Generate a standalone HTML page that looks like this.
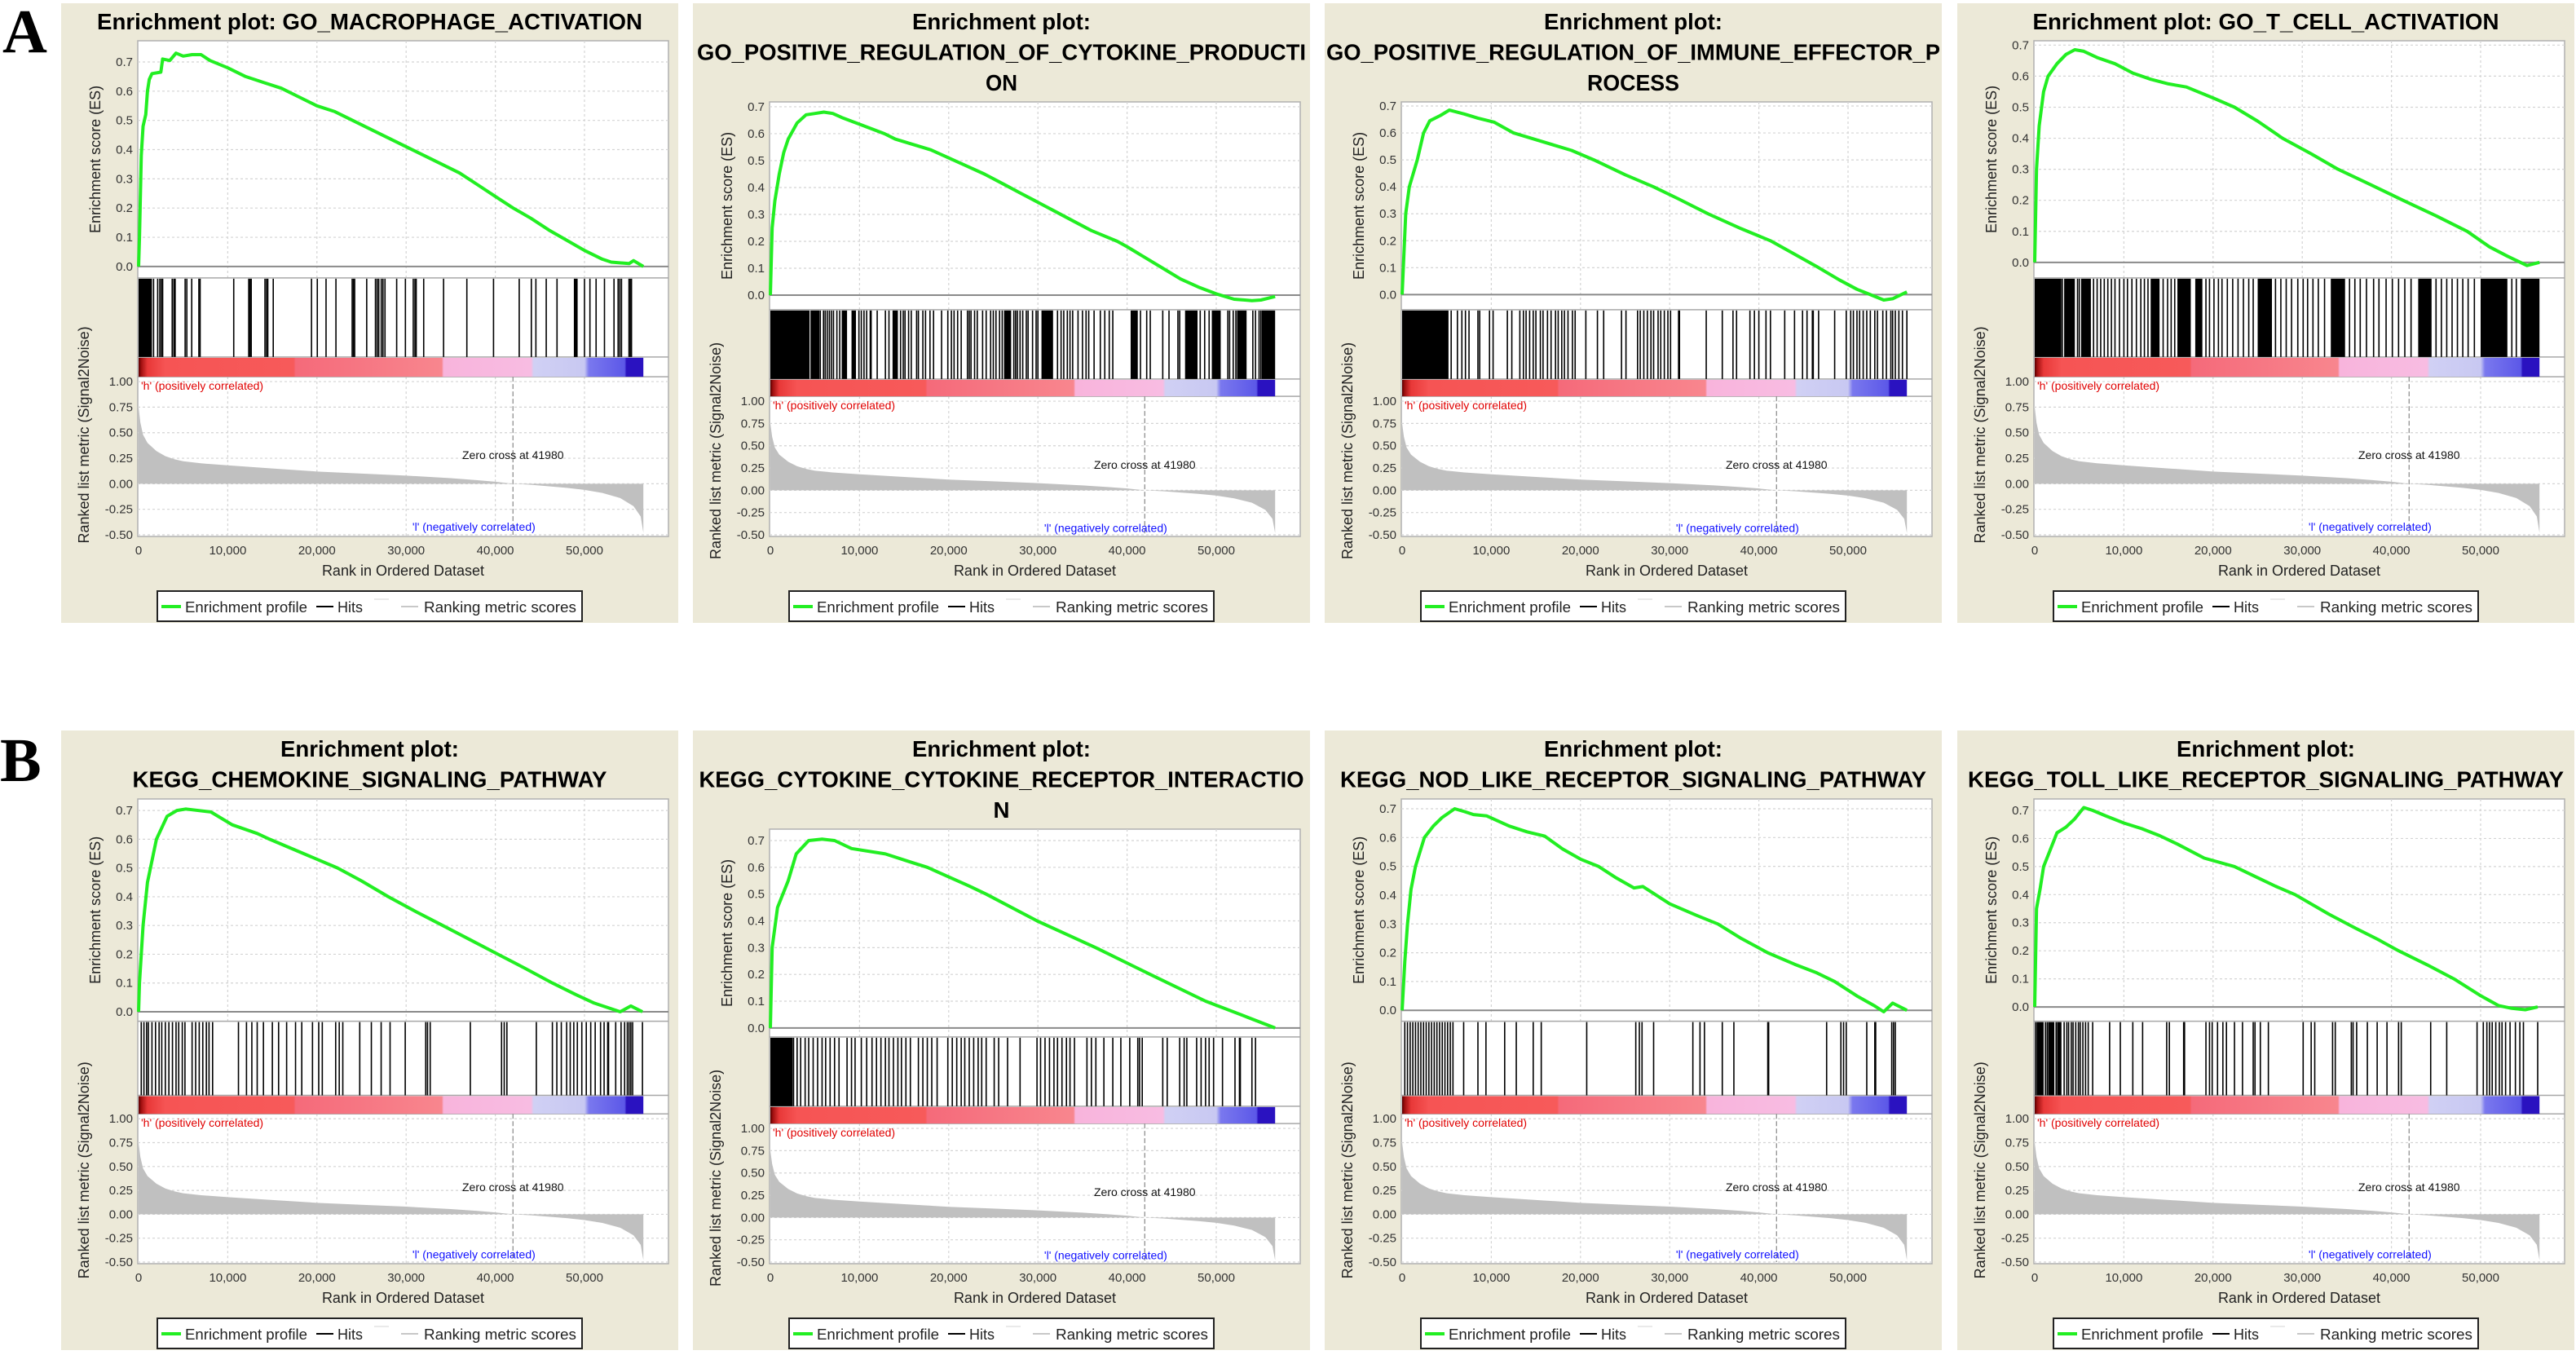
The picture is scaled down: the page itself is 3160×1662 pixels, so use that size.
<!DOCTYPE html>
<html><head><meta charset="utf-8">
<style>
html,body{margin:0;padding:0;background:#fff;}
body{width:3160px;height:1662px;position:relative;overflow:hidden;font-family:"Liberation Sans",Arial,sans-serif;}
.lbl{position:absolute;font-family:"Liberation Serif",serif;font-weight:bold;font-size:76px;line-height:1;}
svg{position:absolute;left:0;top:0;}
</style></head>
<body>
<div class="lbl" style="left:3px;top:1px;">A</div>
<div class="lbl" style="left:0px;top:895px;">B</div>
<svg id="root" width="3160" height="1662" viewBox="0 0 3160 1662"></svg>
<script>
// ---- shared data ----
const xTicks = [0, 10000, 20000, 30000, 40000, 50000];
const xTickLabels = ["0", "10,000", "20,000", "30,000", "40,000", "50,000"];
const esTicks = [0, 0.1, 0.2, 0.3, 0.4, 0.5, 0.6, 0.7];
const esTickLabels = ["0.0","0.1","0.2","0.3","0.4","0.5","0.6","0.7"];
const metricTicks = [1, 0.75, 0.5, 0.25, 0, -0.25, -0.5];
const metricTickLabels = ["1.00","0.75","0.50","0.25","0.00","-0.25","-0.50"];
const zeroCross = 41980;
const nGenes = 56600;
const metricRank = [0,200,500,1000,2000,3000,4000,5000,7000,10000,15000,20000,25000,30000,35000,38000,40000,41980,44000,46000,48000,50000,52000,54000,55500,56300,56600];
const metricVal = [0.75,0.6,0.48,0.4,0.32,0.27,0.24,0.22,0.2,0.18,0.15,0.12,0.1,0.08,0.055,0.035,0.02,0,-0.01,-0.025,-0.04,-0.06,-0.09,-0.14,-0.22,-0.32,-0.48];
const cbRank = [0,300,1000,3000,17400,17600,34000,34200,44000,44300,50000,50500,54500,54700,56600];
const cbColor = ["#5a0000","#a01010","#e83838","#f65454","#f75a5a","#f56a7a","#f8868e","#f8b4dc","#f8bce2","#d0d0f4","#c8c8f2","#7a78ee","#5c58e8","#2a12c0","#2a12c0"];

// ---- panel data (rank in thousands, ES) ----
const esA1 = [[0,0],[0.1,0.1],[0.3,0.38],[0.5,0.48],[0.8,0.52],[1.0,0.6],[1.2,0.64],[1.5,0.66],[2.5,0.665],[2.7,0.71],[3.5,0.705],[4.2,0.73],[5,0.72],[6,0.725],[7,0.725],[8,0.705],[10,0.68],[12,0.65],[14,0.63],[16,0.61],[18,0.58],[20,0.55],[22,0.53],[24,0.5],[26,0.47],[28,0.44],[30,0.41],[32,0.38],[34,0.35],[36,0.32],[38,0.28],[40,0.24],[42,0.2],[44,0.165],[46,0.125],[48,0.09],[50,0.055],[52,0.025],[53,0.015],[55,0.01],[55.5,0.02],[56.6,0]];
const hitsA1 = [1.68,2.14,2.38,2.56,2.7,3.77,3.96,4.1,5.22,5.41,5.96,6.76,6.9,10.67,12.35,12.49,12.63,14.17,14.35,14.49,15.1,19.39,20.04,21.02,22.13,23.95,24.09,24.23,25.58,26.56,26.75,26.93,27.21,27.4,27.63,28.94,29.92,30.8,30.99,31.13,31.97,34.2,36.81,39.8,42.68,44.04,44.55,45.71,46.92,48.88,49.02,49.16,50.0,50.61,51.3,52.24,53.31,53.77,53.96,54.15,54.99,55.13,55.27];
const blocksA1 = [[0,1.5]];

const esA2 = [[0,0],[0.2,0.25],[0.5,0.35],[1,0.45],[1.5,0.53],[2,0.58],[3,0.64],[4,0.67],[5,0.675],[6,0.68],[7,0.675],[8,0.66],[10,0.635],[12.8,0.6],[14,0.58],[16,0.56],[18,0.54],[20,0.51],[22,0.48],[24,0.45],[26.3,0.41],[28,0.38],[30,0.345],[32,0.31],[34,0.275],[36,0.24],[38.9,0.2],[40,0.18],[42,0.14],[44,0.1],[46,0.06],[48,0.03],[50,0.005],[52,-0.015],[54,-0.02],[55,-0.018],[56.6,-0.005]];
const hitsA2 = [5.6,5.96,6.15,6.38,6.62,6.85,7.08,7.46,7.78,9.93,10.2,10.5,10.8,11.2,11.3,11.98,12.9,13.3,14.6,14.9,15.1,15.5,15.8,16.4,16.6,17.1,17.4,17.9,18.3,19.2,19.9,20.3,20.6,21.0,21.4,22.1,22.3,22.5,22.9,23.2,23.8,24.2,24.7,25.0,25.3,25.7,26.0,27.3,27.5,27.7,28.0,28.3,28.7,28.9,29.4,29.8,30.0,32.2,32.6,32.9,33.3,33.6,33.9,34.5,35.0,35.4,35.7,36.3,37.0,37.5,38.0,38.4,41.5,42.2,42.6,44.0,44.7,45.7,45.9,48.2,48.7,49.2,51.3,51.5,51.9,52.2,52.4,54.1,54.4,54.8,55.0];
const blocksA2 = [[0,4.4],[4.5,5.5],[8.0,8.6],[9.1,9.6],[13.7,14.3],[26.2,27.0],[30.4,31.7],[40.4,41.2],[46.5,47.9],[49.5,50.5],[52.4,53.4],[55.1,56.6]];

const esA3 = [[0,0],[0.4,0.3],[0.8,0.4],[1.7,0.5],[2.4,0.6],[3.1,0.645],[4.3,0.665],[5.3,0.685],[7,0.67],[8.5,0.655],[10.3,0.64],[12.5,0.6],[15,0.575],[17,0.555],[19,0.535],[21.5,0.5],[25,0.445],[28.2,0.4],[31,0.355],[34.3,0.3],[38,0.245],[41.3,0.2],[44,0.15],[46.7,0.1],[49,0.055],[51,0.02],[52.5,0.0],[54,-0.02],[55,-0.015],[56.6,0.01]];
const hitsA3 = [5.5,6.2,6.7,7.1,7.5,8.5,8.7,9.8,10.2,11.8,12.3,13.2,13.6,13.9,14.3,14.7,15.0,15.5,15.8,16.3,16.7,17.2,17.5,17.9,18.2,18.6,19.1,19.4,20.6,21.9,22.6,24.6,25.1,26.4,26.7,27.1,27.5,27.9,28.2,28.7,29.0,29.4,29.8,30.1,31.0,31.1,34.1,35.9,37.1,37.5,39.0,39.5,40.0,40.8,41.3,42.9,44.0,44.9,45.4,46.0,46.1,46.7,48.5,49.8,50.3,50.6,51.0,51.3,51.7,52.1,52.5,53.0,53.3,53.9,54.3,54.8,55.0,55.3,55.7,56.1,56.6];
const blocksA3 = [[0,5.2]];

const esA4 = [[0,0],[0.2,0.3],[0.5,0.44],[1,0.55],[1.5,0.6],[2.5,0.64],[3.5,0.67],[4.5,0.685],[5.5,0.68],[7,0.66],[9,0.64],[11,0.61],[13,0.59],[15,0.575],[17,0.565],[20,0.53],[22.4,0.5],[25,0.455],[27.8,0.4],[31,0.35],[34,0.3],[37.7,0.25],[41.3,0.2],[45,0.15],[48.5,0.1],[51,0.05],[53,0.02],[55.2,-0.01],[56.6,0.0]];
const hitsA4 = [3.1,4.8,5.0,6.6,7.0,7.4,7.8,8.2,8.6,9.0,9.5,10.0,10.4,10.9,11.4,11.9,12.3,12.7,14.4,14.9,15.3,15.7,19.2,19.6,20.1,20.6,21.0,21.6,22.2,22.8,23.4,24.0,24.5,27.0,27.6,28.2,28.8,29.5,30.1,30.6,31.2,31.8,32.5,35.3,35.9,36.5,37.2,38.0,38.6,39.4,40.1,40.8,41.5,42.2,45.0,45.6,46.2,46.8,47.4,48.0,48.6,49.3,53.5,54.0];
const blocksA4 = [[0,3.0],[3.3,4.5],[5.2,6.3],[13.0,14.0],[16.0,17.5],[18.0,18.8],[25.0,26.6],[33.2,34.8],[43.0,44.5],[50.0,53.0],[54.5,56.6]];

const esB1 = [[0,0],[0.1,0.1],[0.5,0.3],[1.0,0.45],[2.0,0.6],[3.2,0.68],[4.3,0.7],[5.3,0.705],[8.1,0.695],[10.5,0.65],[13.3,0.62],[14.7,0.6],[18.5,0.55],[22.3,0.5],[25,0.455],[28,0.4],[31,0.35],[34.1,0.3],[37.2,0.25],[40.3,0.2],[43.4,0.15],[46.4,0.1],[49,0.06],[51.1,0.03],[54,0.0],[55.2,0.02],[56.5,0.0]];
const hitsB1 = [0.3,0.6,0.9,1.1,1.5,1.9,2.3,2.6,3.0,3.4,3.8,4.2,4.5,4.9,5.2,6.0,6.4,6.8,7.2,7.6,7.9,8.3,11.2,12.1,12.7,13.3,14.0,15.0,15.7,16.6,17.6,18.3,19.5,20.2,20.6,22.1,22.5,22.9,24.8,26.1,27.2,28.2,29.9,32.2,32.4,32.7,37.2,40.7,41.0,41.3,44.6,46.4,46.9,47.4,48.0,48.4,48.8,49.2,49.7,50.2,50.7,51.2,51.8,52.2,52.6,52.7,53.5,54.1,54.5,54.8,55.0,55.2,55.4,56.5];
const blocksB1 = [];

const esB2 = [[0,0],[0.2,0.3],[0.8,0.45],[2.0,0.55],[2.9,0.65],[4.3,0.7],[5.8,0.705],[7.2,0.7],[9.1,0.67],[12.9,0.65],[15.7,0.62],[17.6,0.6],[22.3,0.53],[24.2,0.5],[29.9,0.4],[36.5,0.3],[42.6,0.2],[48.8,0.1],[53.5,0.04],[56.6,0.0]];
const hitsB2 = [2.6,3.0,3.4,3.9,4.3,4.8,5.3,5.8,6.2,6.7,7.2,7.7,8.6,9.1,9.5,10.2,10.8,11.4,11.9,12.4,12.9,13.3,13.8,14.3,14.7,15.2,15.7,16.6,17.1,17.6,18.1,18.7,19.9,20.4,20.9,21.4,21.8,22.3,22.8,23.3,23.7,24.2,25.1,25.6,26.6,28.0,29.9,30.3,30.8,31.3,31.8,32.2,32.7,33.2,33.6,34.1,35.5,36.0,36.5,37.4,38.4,39.3,40.3,41.2,41.4,41.7,44.0,44.5,45.9,46.4,46.7,47.8,48.3,48.8,49.2,49.7,50.7,52.1,52.6,52.7,54.0,54.4];
const blocksB2 = [[0,2.5]];

const esB3 = [[0,0],[0.3,0.17],[0.6,0.3],[1,0.42],[1.5,0.5],[2.5,0.6],[3.5,0.64],[4.5,0.67],[5.9,0.7],[7,0.69],[8,0.68],[9.5,0.675],[12,0.64],[14,0.62],[16,0.605],[18,0.56],[20,0.525],[22,0.5],[24,0.46],[26,0.425],[27,0.43],[28,0.41],[30,0.37],[33,0.33],[35.4,0.3],[38,0.25],[41,0.2],[44,0.16],[46.5,0.13],[48.5,0.1],[51,0.05],[53,0.015],[54,-0.005],[55,0.025],[56.6,0.0]];
const hitsB3 = [0.3,0.6,0.9,1.2,1.5,1.8,2.1,2.4,2.7,3.0,3.3,3.6,3.9,4.2,4.5,4.8,5.1,5.4,5.7,6.9,8.5,9.4,11.5,12.8,14.7,15.6,20.7,26.2,26.6,26.9,28.2,32.6,33.4,33.9,35.9,37.2,41.0,41.1,47.6,49.2,49.5,49.8,52.1,53.0,53.1,54.9,55.1,55.3];
const blocksB3 = [];

const esB4 = [[0,0],[0.2,0.35],[0.6,0.42],[1,0.5],[1.5,0.54],[2.5,0.62],[3.5,0.64],[4.5,0.67],[5.5,0.71],[6.5,0.7],[8,0.68],[10,0.655],[12,0.635],[14,0.61],[16,0.58],[19,0.53],[22.4,0.5],[25,0.46],[27,0.43],[29.2,0.4],[33,0.33],[36,0.28],[38.5,0.24],[40.8,0.2],[44,0.15],[47,0.1],[50,0.04],[52,0.005],[53.5,-0.005],[55,-0.01],[56.4,0.0]];
const hitsB4 = [0.1,1.2,1.4,2.4,3.3,3.6,3.8,4.1,4.3,4.6,4.9,5.1,5.4,5.7,6.0,6.5,8.4,9.6,11.0,12.1,14.8,15.1,16.7,16.8,19.2,19.6,19.9,20.5,21.1,21.5,22.4,23.3,24.5,24.7,25.3,26.2,30.1,31.0,31.4,33.4,33.7,35.5,35.7,36.1,37.3,38.4,39.5,40.8,41.1,44.4,46.2,49.6,50.3,50.7,51.0,51.3,51.7,52.1,52.4,52.8,53.3,53.9,54.4,54.8,56.4];
const blocksB4 = [[0.2,1.0],[1.5,2.2],[2.5,3.0]];

const panels = [
 {id:"a1", left:75, top:4, title:["Enrichment plot: GO_MACROPHAGE_ACTIVATION"], tl:[669], esMax:0.7725, esMin:-0.039, es:esA1, hits:hitsA1, blocks:blocksA1},
 {id:"a2", left:850, top:4, title:["Enrichment plot:","GO_POSITIVE_REGULATION_OF_CYTOKINE_PRODUCTI","ON"], tl:[219,747,39], esMax:0.718, esMin:-0.054, es:esA2, hits:hitsA2, blocks:blocksA2},
 {id:"a3", left:1625, top:4, title:["Enrichment plot:","GO_POSITIVE_REGULATION_OF_IMMUNE_EFFECTOR_P","ROCESS"], tl:[219,753,113], esMax:0.7151, esMin:-0.0559, es:esA3, hits:hitsA3, blocks:blocksA3},
 {id:"a4", left:2401, top:4, title:["Enrichment plot: GO_T_CELL_ACTIVATION"], tl:[572], esMax:0.714, esMin:-0.05, es:esA4, hits:hitsA4, blocks:blocksA4},
 {id:"b1", left:75, top:896, title:["Enrichment plot:","KEGG_CHEMOKINE_SIGNALING_PATHWAY"], tl:[219,582], esMax:0.74, esMin:-0.033, es:esB1, hits:hitsB1, blocks:blocksB1},
 {id:"b2", left:850, top:896, title:["Enrichment plot:","KEGG_CYTOKINE_CYTOKINE_RECEPTOR_INTERACTIO","N"], tl:[219,742,20], esMax:0.7426, esMin:-0.0335, es:esB2, hits:hitsB2, blocks:blocksB2},
 {id:"b3", left:1625, top:896, title:["Enrichment plot:","KEGG_NOD_LIKE_RECEPTOR_SIGNALING_PATHWAY"], tl:[219,719], esMax:0.734, esMin:-0.038, es:esB3, hits:hitsB3, blocks:blocksB3},
 {id:"b4", left:2401, top:896, title:["Enrichment plot:","KEGG_TOLL_LIKE_RECEPTOR_SIGNALING_PATHWAY"], tl:[219,731], esMax:0.7406, esMin:-0.051, es:esB4, hits:hitsB4, blocks:blocksB4}
];

const NS = "http://www.w3.org/2000/svg";
const root = document.getElementById("root");
function mk(parent, tag, attrs, text){
  const el = document.createElementNS(NS, tag);
  for (const k in attrs) el.setAttribute(k, attrs[k]);
  if (text !== undefined) el.textContent = text;
  parent.appendChild(el);
  return el;
}
const PW = 757, PH = 760, PL = 94, PR = 745, PX = 10.94;
const xs = r => PL + 1 + r * PX;
const xsRank = r => xs(r / 1000);

panels.forEach(p => {
  const g = mk(root, "g", {transform:`translate(${p.left},${p.top})`});
  
  
  const bg = mk(g, "rect", {x:0, y:0, width:PW, height:PH, fill:"#ece9d8"});
  
  

  p.title.forEach((line, i) => {
    const t = mk(g, "text", {x:PW/2, y:32 + i*37.5, "text-anchor":"middle", "font-size":28, "font-weight":"bold", fill:"#000", textLength:p.tl[i], lengthAdjust:"spacingAndGlyphs"}, line);
    
    
  });

  const n = p.title.length;
  const T = n === 1 ? 46 : (n === 2 ? 84 : 121);
  const Hh = 652 - T;
  const esBot = T + 0.48 * Hh, hitsBot = T + 0.64 * Hh, cbBot = T + 0.68 * Hh, btm = 654;
  const ys = v => T + (p.esMax - v) / (p.esMax - p.esMin) * (esBot - T);
  const mTop = cbBot + 6;
  const ym = v => mTop + (1 - v) / 1.5 * (652 - mTop);

  const plotBg = mk(g, "rect", {x:PL, y:T, width:PR-PL, height:btm-T, fill:"#fff", stroke:"#b0b0b0", "stroke-width":1.5});
  
  

  xTicks.forEach((tv, i) => {
    const x = xsRank(tv);
    if (tv > 0) {
      const gl = mk(g, "line", {x1:x, x2:x, y1:T, y2:esBot, stroke:"#d4d4d4", "stroke-dasharray":"3,3", "stroke-width":1.2});
      
      
      const gl2 = mk(g, "line", {x1:x, x2:x, y1:cbBot, y2:btm, stroke:"#d4d4d4", "stroke-dasharray":"3,3", "stroke-width":1.2});
      
      
    }
    const tl = mk(g, "text", {x:x, y:676, "text-anchor":"middle", "font-size":15, fill:"#333"}, xTickLabels[i]);
    
    
  });
  esTicks.forEach((tv, i) => {
    const y = ys(tv);
    const gl = mk(g, "line", {x1:PL, x2:PR, y1:y, y2:y, stroke:"#d4d4d4", "stroke-dasharray":"3,3", "stroke-width":1.2});
    
    
    const tl = mk(g, "text", {x:PL-6, y:y+5, "text-anchor":"end", "font-size":15, fill:"#333"}, esTickLabels[i]);
    
    
  });
  metricTicks.forEach((tv, i) => {
    const y = ym(tv);
    const gl = mk(g, "line", {x1:PL, x2:PR, y1:y, y2:y, stroke:"#d4d4d4", "stroke-dasharray":"3,3", "stroke-width":1.2});
    
    
    const tl = mk(g, "text", {x:PL-6, y:y+5, "text-anchor":"end", "font-size":15, fill:"#333"}, metricTickLabels[i]);
    
    
  });

  const zl = mk(g, "line", {x1:PL, x2:PR, y1:ys(0), y2:ys(0), stroke:"#8a8a8a", "stroke-width":2});
  
  

  [esBot, hitsBot, cbBot].forEach(y => {
    const s = mk(g, "line", {x1:PL, x2:PR, y1:y, y2:y, stroke:"#a8a8a8", "stroke-width":1.5});
    
    
  });

  p.blocks.forEach(b => {
    const r = mk(g, "rect", {x:xs(b[0]), y:esBot+1, width:Math.max(1, xs(b[1]) - xs(b[0])), height:hitsBot-esBot-1, fill:"#000"});
    
    
  });
  p.hits.forEach(h => {
    const l = mk(g, "line", {x1:xs(h), x2:xs(h), y1:esBot+1, y2:hitsBot, stroke:"#000", "stroke-width":1.6});
    
    
  });

  const defs = mk(g, "defs", {});
  const grad = mk(defs, "linearGradient", {id:"cb-"+p.id, gradientUnits:"userSpaceOnUse", x1:xsRank(0), x2:xsRank(nGenes), y1:0, y2:0});
  cbRank.forEach((r, i) => {
    mk(grad, "stop", {offset:(r / nGenes), "stop-color":cbColor[i]});
  });
  const cb = mk(g, "rect", {x:xsRank(0), y:hitsBot+1, width:xsRank(nGenes)-xsRank(0), height:cbBot-hitsBot-1, fill:"url(#cb-"+p.id+")"});
  
  

  let d = `M${xsRank(metricRank[0])},${ym(0)}`;
  metricRank.forEach((r, i) => { d += ` L${xsRank(r)},${ym(metricVal[i])}`; });
  d += ` L${xsRank(metricRank[metricRank.length-1])},${ym(0)} Z`;
  const area = mk(g, "path", {d:d, fill:"#c0c0c0", stroke:"none"});
  
  

  const zc = mk(g, "line", {x1:xsRank(zeroCross), x2:xsRank(zeroCross), y1:cbBot, y2:652, stroke:"#888", "stroke-width":1.2, "stroke-dasharray":"6,3"});
  
  
  const zct = mk(g, "text", {x:xsRank(zeroCross), y:ym(0.25)+1, "text-anchor":"middle", "font-size":14, fill:"#111"}, "Zero cross at 41980");
  
  
  const ht = mk(g, "text", {x:PL+4, y:cbBot+16, "font-size":14, fill:"#e00000"}, "'h' (positively correlated)");
  
  
  const lt = mk(g, "text", {x:xs(37.6), y:ym(-0.42)+5, "text-anchor":"middle", "font-size":14, fill:"#1010ff"}, "'l' (negatively correlated)");
  
  

  const pts = p.es.map(q => `${xs(q[0]).toFixed(1)},${ys(q[1]).toFixed(1)}`).join(" ");
  const curve = mk(g, "polyline", {points:pts, fill:"none", stroke:"#22ee22", "stroke-width":4, "stroke-linejoin":"round"});
  
  

  const xt = mk(g, "text", {x:(PL+PR)/2, y:702, "text-anchor":"middle", "font-size":18, fill:"#222"}, "Rank in Ordered Dataset");
  
  
  const yc1 = (T + esBot) / 2;
  const yt1 = mk(g, "text", {x:0, y:0, transform:`translate(48,${yc1}) rotate(-90)`, "text-anchor":"middle", "font-size":18, fill:"#222"}, "Enrichment score (ES)");
  
  
  const yt2 = mk(g, "text", {x:0, y:0, transform:`translate(34,${(esBot+702)/2+10}) rotate(-90)`, "text-anchor":"middle", "font-size":18, fill:"#222"}, "Ranked list metric (Signal2Noise)");
  
  

  const lg = mk(g, "g", {});
  
  
  mk(lg, "rect", {x:118, y:721, width:521, height:37, fill:"#fff", stroke:"#222", "stroke-width":2});
  const l1 = mk(lg, "line", {x1:123, x2:147, y1:740, y2:740, stroke:"#22ee22", "stroke-width":4});
  
  
  const t1 = mk(lg, "text", {x:152, y:747, "font-size":18, fill:"#222", textLength:150, lengthAdjust:"spacingAndGlyphs"}, "Enrichment profile");
  
  
  const l2 = mk(lg, "line", {x1:313, x2:334, y1:740, y2:740, stroke:"#000", "stroke-width":2});
  
  
  const t2 = mk(lg, "text", {x:339, y:747, "font-size":18, fill:"#222"}, "Hits");
  
  
  const l3 = mk(lg, "line", {x1:384, x2:402, y1:731, y2:731, stroke:"#e4e4e4", "stroke-width":1.5});
  
  
  const l4 = mk(lg, "line", {x1:417, x2:438, y1:740, y2:740, stroke:"#c8c8c8", "stroke-width":2});
  
  
  const t4 = mk(lg, "text", {x:445, y:747, "font-size":18, fill:"#222", textLength:187, lengthAdjust:"spacingAndGlyphs"}, "Ranking metric scores");
  
  
});
</script>
</body></html>
